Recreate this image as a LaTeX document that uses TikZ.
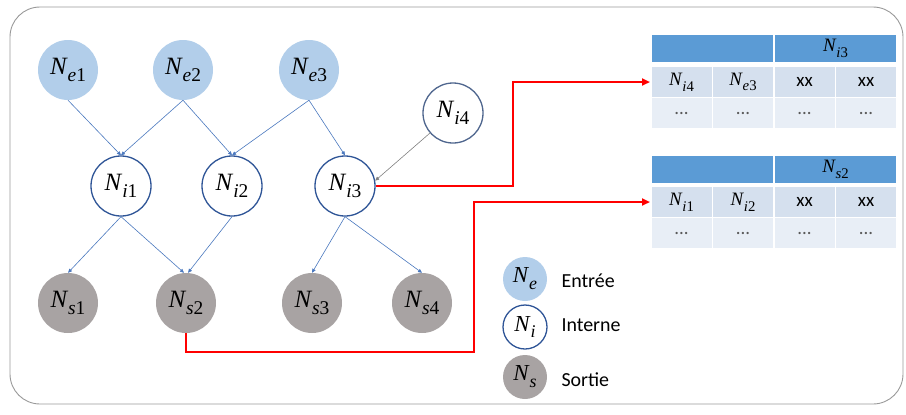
\documentclass[tikz,border=0pt]{standalone}
\usepackage{graphicx}
\usepackage{fontspec}
\setmainfont{Carlito}
\newfontfamily\mfont{Liberation Serif}
\newcommand{\nd}[2]{{\mfont\itshape N\kern0.04em\raisebox{-0.3em}{\scalebox{0.78}{#1\upshape #2}}}}
\usetikzlibrary{arrows.meta}
\definecolor{entree}{HTML}{B2CEEA}
\definecolor{sortie}{HTML}{A8A3A3}
\definecolor{interne}{HTML}{2F5597}
\definecolor{lien}{HTML}{4A78BE}
\definecolor{entete}{HTML}{5B9BD5}
\definecolor{ligne}{HTML}{D5E0EE}
\definecolor{ligneb}{HTML}{E8EEF6}
\tikzset{
  noeud/.style={circle,minimum size=60bp,inner sep=0pt,font=\fontsize{25}{29}\selectfont},
  ne/.style={noeud,fill=entree},
  ni/.style={noeud,draw=interne,line width=1.3bp,fill=white},
  ns/.style={noeud,fill=sortie},
  petit/.style={minimum size=44bp,font=\fontsize{23}{27}\selectfont},
  lien/.style={draw=lien,line width=0.6bp,-{Triangle[length=4bp,width=3.5bp]}},
  rouge/.style={draw=red,line width=2.2bp,-{Triangle[length=8bp,width=7bp]}},
  cell/.style={rectangle,draw=white,line width=1.5bp,minimum width=61.5bp,inner sep=0pt,font=\fontsize{19}{22}\selectfont},
  tete/.style={cell,fill=entete,minimum width=123bp,minimum height=29bp},
  lig/.style={cell,fill=ligne,minimum height=31bp},
  ligb/.style={cell,fill=ligneb,minimum height=31bp,text=gray!70!black},
  legende/.style={anchor=west,font=\fontsize{20}{24}\selectfont}
}
\begin{document}
\begin{tikzpicture}[x=1bp,y=-1bp]
\useasboundingbox (0,0) rectangle (906,414);
\draw[gray!80,line width=0.9bp,rounded corners=30bp] (10,7) rectangle (903,404);
%%
\node (Ne1) at (68,70) [ne] {\nd{e}{1}};
  \node (Ne2) at (183,70) [ne] {\nd{e}{2}};
  \node (Ne3) at (309,70) [ne] {\nd{e}{3}};
  \node (Ni4) at (453,113) [ni,draw=interne!60!gray] {\nd{i}{4}};
  \node (Ni1) at (121,186) [ni] {\nd{i}{1}};
  \node (Ni2) at (232,186) [ni] {\nd{i}{2}};
  \node (Ni3) at (345,186) [ni] {\nd{i}{3}};
  \node (Ns1) at (68,303) [ns] {\nd{s}{1}};
  \node (Ns2) at (186,303) [ns] {\nd{s}{2}};
  \node (Ns3) at (312,303) [ns] {\nd{s}{3}};
  \node (Ns4) at (422,303) [ns] {\nd{s}{4}};
%% legende
  \node (LNe) at (525,279) [ne,petit] {\nd{e}{}};
  \node (LNi) at (525,327) [ni,petit] {\nd{i}{}};
  \node (LNs) at (525,377) [ns,petit] {\nd{s}{}};
  \node (TNe) at (558,281) [legende] {Entrée};
  \node (TNi) at (558,325) [legende] {Interne};
  \node (TNs) at (558,380) [legende] {Sortie};
%% table Ni3
  \node (ta0) at (712.5,48.5) [tete] {};
  \node (ta9) at (835.5,48.5) [tete] {\nd{i}{3}};
  \node (ta1) at (681.5,82) [lig] {\nd{i}{4}};
  \node (ta2) at (743,82) [lig] {\nd{e}{3}};
  \node (ta3) at (804.5,82) [lig] {xx};
  \node (ta4) at (866,82) [lig] {xx};
  \node (ta5) at (681.5,113) [ligb] {...};
  \node (ta6) at (743,113) [ligb] {...};
  \node (ta7) at (804.5,113) [ligb] {...};
  \node (ta8) at (866,113) [ligb] {...};
%% table Ns2
  \node (tb0) at (712.5,169.5) [tete] {};
  \node (tb9) at (835.5,169.5) [tete] {\nd{s}{2}};
  \node (tb1) at (681.5,202) [lig] {\nd{i}{1}};
  \node (tb2) at (743,202) [lig] {\nd{i}{2}};
  \node (tb3) at (804.5,202) [lig] {xx};
  \node (tb4) at (866,202) [lig] {xx};
  \node (tb5) at (681.5,233) [ligb] {...};
  \node (tb6) at (743,233) [ligb] {...};
  \node (tb7) at (804.5,233) [ligb] {...};
  \node (tb8) at (866,233) [ligb] {...};
  \coordinate (k1) at (513,186);
  \coordinate (k2) at (474,352);
%%
  \draw [lien] (Ne1.south) -- (Ni1.north);
  \draw [lien] (Ne2.south) -- (Ni1.north);
  \draw [lien] (Ne2.south) -- (Ni2.north);
  \draw [lien] (Ne3.south) -- (Ni2.north);
  \draw [lien] (Ne3.south) -- (Ni3.north);
  \draw [lien,draw=gray] (Ni4) -- (Ni3.10);
  \draw [lien] (Ni1.south) -- (Ns1.north);
  \draw [lien] (Ni1.south) -- ([xshift=-2bp]Ns2.north);
  \draw [lien] (Ni2.south) -- ([xshift=2bp]Ns2.north);
  \draw [lien] (Ni3.south) -- (Ns3.north);
  \draw [lien] (Ni3.south) -- (Ns4.north);
  \draw [rouge] (Ni3.east) -- (k1) |- (ta1.west);
  \draw [rouge] (Ns2.south) |- (k2) |- (tb1.west);
%
\end{tikzpicture}
\end{document}
